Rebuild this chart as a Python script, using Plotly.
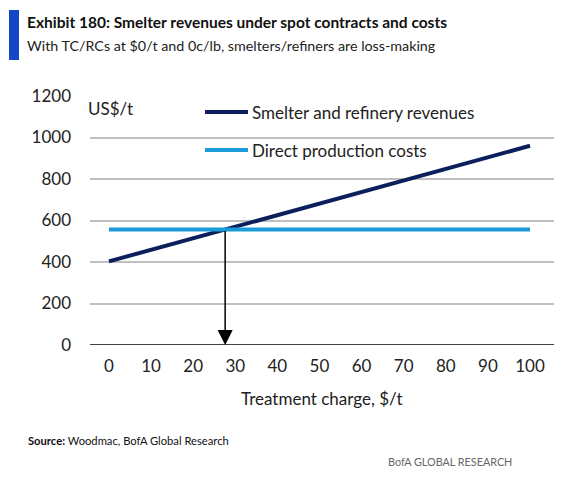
import plotly.graph_objects as go

charge = [0, 100]
revenues = [403, 960]
costs = [557, 557]
breakeven_x = 27.6
breakeven_y = 557
x_ticks = [0, 10, 20, 30, 40, 50, 60, 70, 80, 90, 100]
y_ticks = [0, 200, 400, 600, 800, 1000, 1200]

FONT = "Lato"
W, H = 574, 477
L, R, T, B = 82, 28, 88, 140
OFF = 8  # page body margin
PW, PH = W - L - R, H - T - B


def px(sx):
    return (sx - OFF - L) / PW


def py(sy):
    return (H - B - (sy - OFF)) / PH


fig = go.Figure()
fig.add_trace(go.Scatter(x=charge, y=revenues, mode="lines",
                         line=dict(color="#0a1f5c", width=4), name="Smelter and refinery revenues",
                         showlegend=False))
fig.add_trace(go.Scatter(x=charge, y=costs, mode="lines",
                         line=dict(color="#1a9bd7", width=4), name="Direct production costs",
                         showlegend=False))

fig.add_annotation(x=breakeven_x, y=0, ax=breakeven_x, ay=breakeven_y,
                   xref="x", yref="y", axref="x", ayref="y",
                   showarrow=True, arrowhead=2, arrowsize=2, arrowwidth=1.5,
                   arrowcolor="black", text="")

# inline legend
fig.add_shape(type="line", xref="paper", yref="paper", x0=px(205), x1=px(248), y0=py(112), y1=py(112),
              line=dict(color="#0a1f5c", width=4))
fig.add_annotation(xref="paper", yref="paper", x=px(250), y=py(112), xanchor="left", yanchor="middle",
                   text="Smelter and refinery revenues", showarrow=False,
                   font=dict(family=FONT, size=17, color="#222"))
fig.add_shape(type="line", xref="paper", yref="paper", x0=px(205), x1=px(248), y0=py(150), y1=py(150),
              line=dict(color="#1a9bd7", width=4))
fig.add_annotation(xref="paper", yref="paper", x=px(250), y=py(150), xanchor="left", yanchor="middle",
                   text="Direct production costs", showarrow=False,
                   font=dict(family=FONT, size=17, color="#222"))
fig.add_annotation(xref="paper", yref="paper", x=px(86), y=py(108), xanchor="left", yanchor="middle",
                   text="US$/t", showarrow=False, font=dict(family=FONT, size=17, color="#222"))

# x axis title
fig.add_annotation(xref="paper", yref="paper", x=px(322), y=py(398), xanchor="center", yanchor="middle",
                   text="Treatment charge, $/t", showarrow=False,
                   font=dict(family=FONT, size=17, color="#222"))

# title area
fig.add_shape(type="rect", xref="paper", yref="paper", x0=px(9), x1=px(19), y0=py(60), y1=py(10),
              fillcolor="#1446c8", line=dict(width=0))
fig.add_annotation(xref="paper", yref="paper", x=px(25), y=py(22), xanchor="left", yanchor="middle",
                   text="<b>Exhibit 180: Smelter revenues under spot contracts and costs</b>",
                   showarrow=False, font=dict(family=FONT, size=15.5, color="#111"))
fig.add_annotation(xref="paper", yref="paper", x=px(25), y=py(46), xanchor="left", yanchor="middle",
                   text="With TC/RCs at $0/t and 0c/lb, smelters/refiners are loss-making",
                   showarrow=False, font=dict(family=FONT, size=14.3, color="#222"))
fig.add_annotation(xref="paper", yref="paper", x=px(26), y=py(440), xanchor="left", yanchor="middle",
                   text="<b>Source:</b> Woodmac, BofA Global Research",
                   showarrow=False, font=dict(family=FONT, size=11.2, color="#111"))
fig.add_annotation(xref="paper", yref="paper", x=px(514), y=py(461), xanchor="right", yanchor="middle",
                   text="BofA GLOBAL RESEARCH",
                   showarrow=False, font=dict(family=FONT, size=10.8, color="#666"))

fig.update_layout(
    width=W, height=H,
    margin=dict(l=L, r=R, t=T, b=B),
    plot_bgcolor="white", paper_bgcolor="white",
    font=dict(family=FONT, size=17, color="#222"),
    xaxis=dict(range=[-4.5, 105.7], tickvals=x_ticks, showgrid=False, zeroline=False,
               showline=False, ticks="", ticklabelstandoff=9, fixedrange=True),
    yaxis=dict(range=[0, 1200], tickvals=y_ticks, showgrid=True, gridcolor="#c0c0c0", gridwidth=1.5,
               zeroline=False, showline=False, ticks="", ticklabelstandoff=18, fixedrange=True),
    showlegend=False,
)
fig.add_shape(type="line", xref="paper", yref="y", x0=0, x1=1, y0=0, y1=0,
              line=dict(color="#444", width=2), layer="below")
fig.write_html("out.html")
